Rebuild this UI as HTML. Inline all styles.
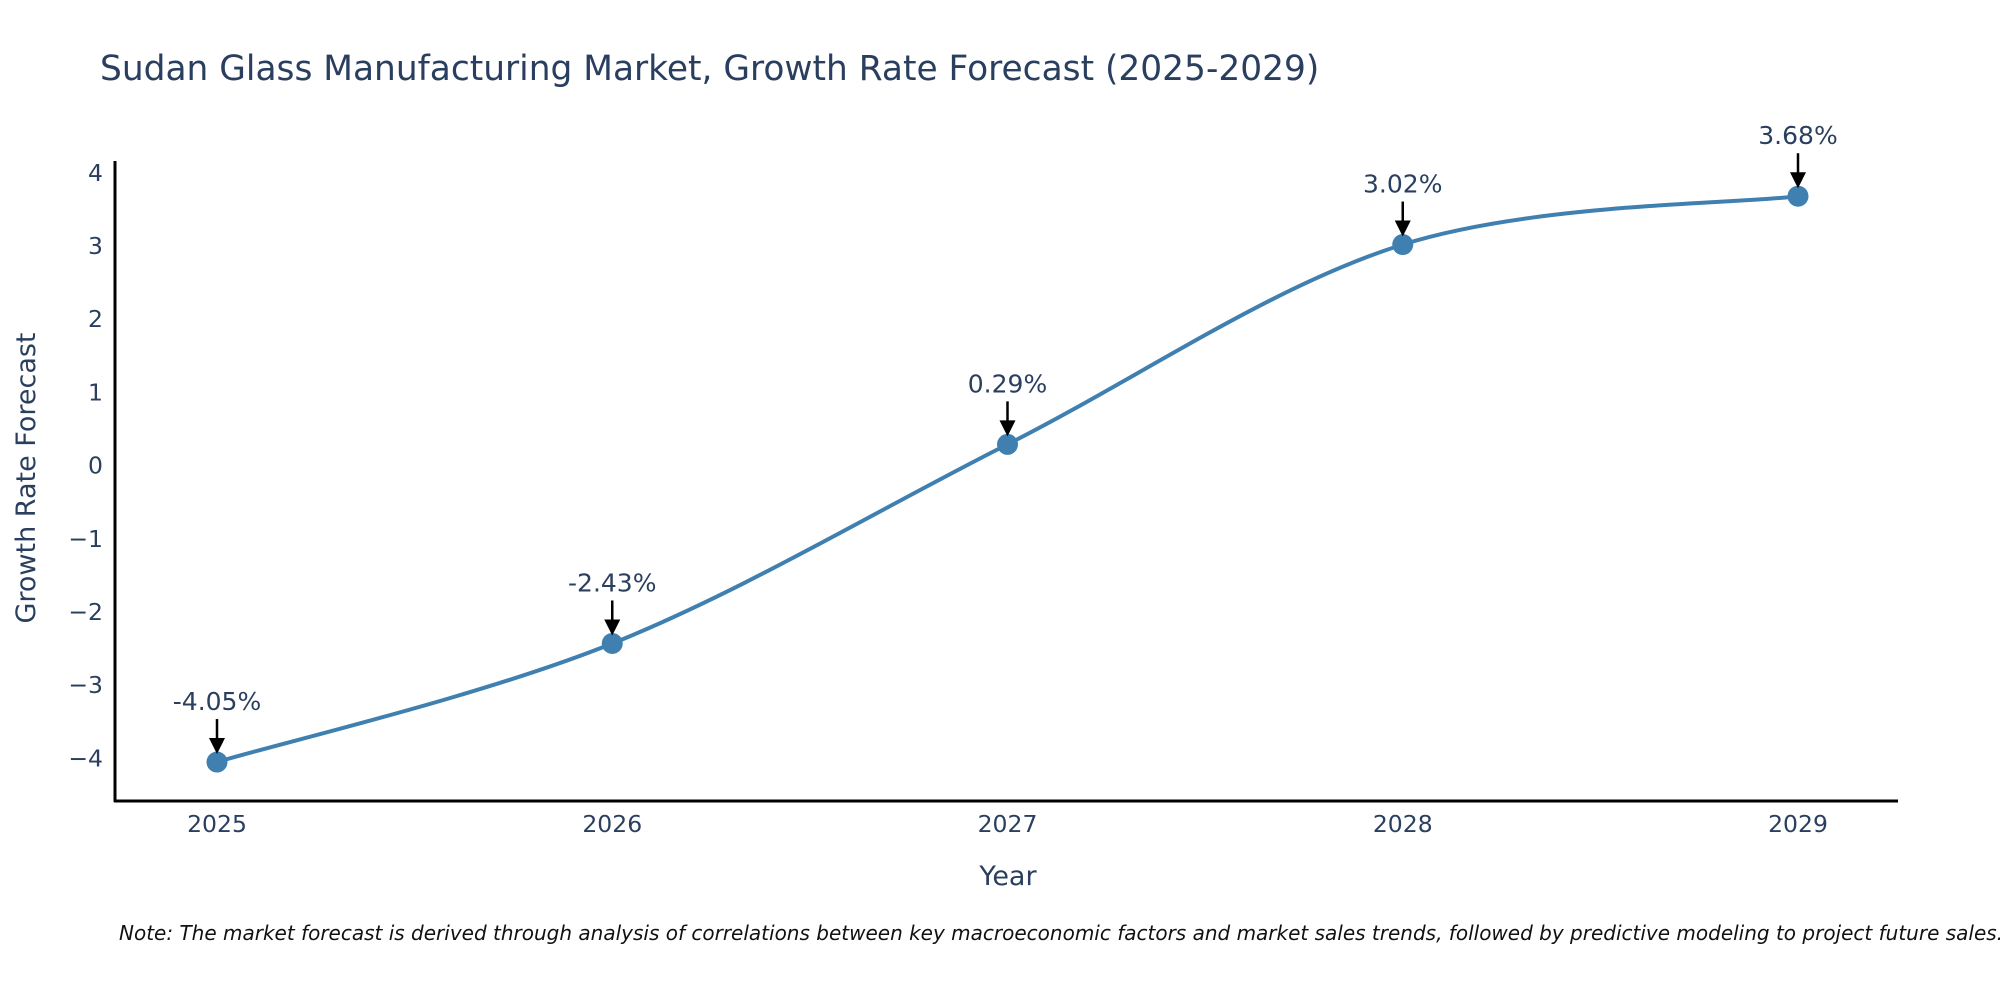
<!DOCTYPE html>
<html><head><meta charset="utf-8"><style>
html,body{margin:0;padding:0;background:#fff;}
svg{display:block;font-family:"DejaVu Sans","Liberation Sans",sans-serif;}
</style></head><body>
<svg id="chart" width="2000" height="1000" viewBox="0 0 2000 1000">
<text x="100" y="80" font-size="34.4" fill="#2a3f5f">Sudan Glass Manufacturing Market, Growth Rate Forecast (2025-2029)</text>
<g id="yticks"></g>
<g id="xticks"></g>
<line x1="115" y1="161" x2="115" y2="802" stroke="#000" stroke-width="3"/>
<line x1="114" y1="801" x2="1898" y2="801" stroke="#000" stroke-width="3"/>
<path id="series-line" fill="none" stroke="#3f80b0" stroke-width="4"/>
<g id="points"></g>
<g id="annots"></g>
<text x="26" y="478" font-size="27" fill="#2a3f5f" text-anchor="middle" transform="rotate(-90 26 478)" dy="9">Growth Rate Forecast</text>
<text x="1008" y="885" font-size="27" fill="#2a3f5f" text-anchor="middle">Year</text>
<text x="119" y="940" font-size="20" font-style="italic" fill="#111">Note: The market forecast is derived through analysis of correlations between key macroeconomic factors and market sales trends, followed by predictive modeling to project future sales.</text>
</svg>
<script>
const years = [2025, 2026, 2027, 2028, 2029];
const growth = [-4.05, -2.43, 0.29, 3.02, 3.68];
const labels = ["-4.05%", "-2.43%", "0.29%", "3.02%", "3.68%"];
const yTickValues = [-4, -3, -2, -1, 0, 1, 2, 3, 4];

const NS = "http://www.w3.org/2000/svg";
function xScale(v){ return 217 + (v - 2025) * 395.25; }
function yScale(v){ return 465.6 - v * 73.2; }
function mk(tag, attrs, parent){
  const e = document.createElementNS(NS, tag);
  for (const k in attrs) e.setAttribute(k, attrs[k]);
  parent.appendChild(e);
  return e;
}
const yt = document.getElementById('yticks');
yTickValues.forEach(v => {
  const t = mk('text', {x: 103, y: yScale(v) + 8, 'font-size': 23.5, fill: '#2a3f5f', 'text-anchor': 'end'}, yt);
  
  
  t.textContent = v < 0 ? '\u2212' + Math.abs(v) : String(v);
});
const xt = document.getElementById('xticks');
years.forEach(v => {
  const t = mk('text', {x: xScale(v), y: 832, 'font-size': 23.5, fill: '#2a3f5f', 'text-anchor': 'middle'}, xt);
  
  
  t.textContent = String(v);
});
const pts = years.map((y, i) => [xScale(y), yScale(growth[i])]);
let d = 'M' + pts[0][0] + ',' + pts[0][1];
for (let i = 0; i < pts.length - 1; i++) {
  const p0 = pts[i - 1] || pts[i], p1 = pts[i], p2 = pts[i + 1], p3 = pts[i + 2] || pts[i + 1];
  const k = 1 / 6;
  const c1 = [p1[0] + (p2[0] - p0[0]) * k, p1[1] + (p2[1] - p0[1]) * k];
  const c2 = [p2[0] - (p3[0] - p1[0]) * k, p2[1] - (p3[1] - p1[1]) * k];
  d += ' C' + c1 + ' ' + c2 + ' ' + p2;
}
document.getElementById('series-line').setAttribute('d', d);
const pg = document.getElementById('points');
const ag = document.getElementById('annots');
pts.forEach((p, i) => {
  const c = mk('circle', {cx: p[0], cy: p[1], r: 10.5, fill: '#3f80b0'}, pg);
  
  
  const ln = mk('line', {x1: p[0], y1: p[1] - 43, x2: p[0], y2: p[1] - 20, stroke: '#000', 'stroke-width': 2.5}, ag);
  
  
  const hd = mk('path', {d: 'M' + (p[0] - 8) + ',' + (p[1] - 24) + ' L' + (p[0] + 8) + ',' + (p[1] - 24) + ' L' + p[0] + ',' + (p[1] - 8) + 'Z', fill: '#000'}, ag);
  
  
  const t = mk('text', {x: p[0], y: p[1] - 52, 'font-size': 25, fill: '#2a3f5f', 'text-anchor': 'middle'}, ag);
  
  
  t.textContent = labels[i];
});
</script>
</body></html>
